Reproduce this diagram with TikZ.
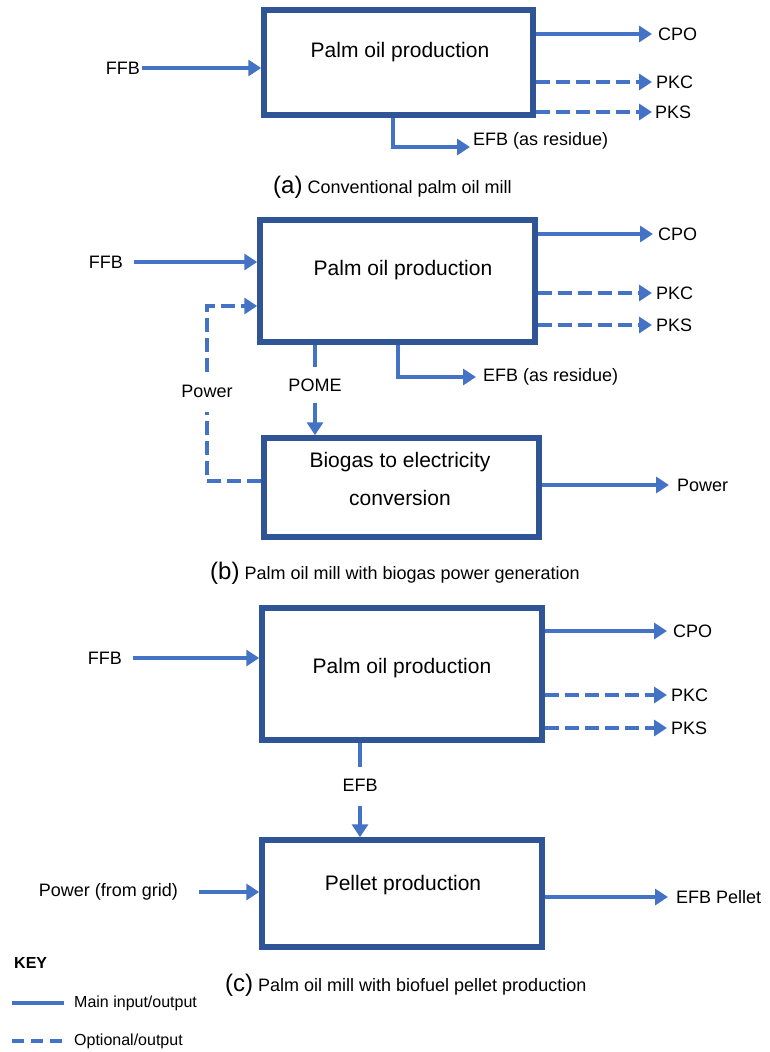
\documentclass[tikz,border=0pt]{standalone}
\usepackage{fontspec}
\setmainfont{Liberation Sans}
\usetikzlibrary{arrows.meta}
\definecolor{arrblue}{HTML}{4472C4}
\definecolor{boxblue}{HTML}{2F5597}
\begin{document}
\begin{tikzpicture}[x=1pt,y=-1pt,
  procbox/.style={draw=boxblue, line width=5.5pt, inner sep=0pt},
  flow/.style={draw=arrblue, line width=4.8pt},
  flowarr/.style={flow, -{Triangle[length=13pt,width=16pt]}},
  optflow/.style={flow, dash pattern=on 14pt off 6pt},
  optarr/.style={optflow, -{Triangle[length=13pt,width=16pt]}},
  boxtxt/.style={font=\fontsize{21}{38}\selectfont, align=center, inner sep=0pt},
  lbl/.style={font=\fontsize{18}{22}\selectfont, inner sep=0pt},
  rlbl/.style={lbl, anchor=west, inner xsep=5pt},
  llbl/.style={lbl, anchor=east},
  keylbl/.style={font=\fontsize{16}{20}\selectfont, inner sep=0pt, anchor=west},
  captxt/.style={font=\fontsize{18}{22}\selectfont, inner sep=0pt, anchor=west}]
\useasboundingbox (0,0) rectangle (769,1052);

% ---------------- (a) ----------------
\node[procbox, minimum width=269pt, minimum height=105pt] (pa) at (398.5,62.5) {};
\node[boxtxt] (pat) at (400,52) {Palm oil production};
\node[llbl, inner xsep=2pt] (ffba) at (142,68) {FFB};
\draw[flowarr] (ffba.east) -- (ffba.east -| pa.west);
\node[rlbl, inner xsep=6pt] (cpoa) at (652,34) {CPO};
\draw[flowarr] (pa.east |- cpoa.west) -- (cpoa.west);
\node[rlbl, inner xsep=4pt] (pkca) at (652,82) {PKC};
\draw[optarr] (pa.east |- pkca.west) -- (pkca.west);
\node[rlbl, inner xsep=3pt] (pksa) at (652,112) {PKS};
\draw[optarr] (pa.east |- pksa.west) -- (pksa.west);
\coordinate (ea) at (393,147);
\node[rlbl, inner xsep=3pt] (efba) at (470,141) {EFB (as residue)};
\draw[flowarr] (ea |- pa.south) -- (ea) -- (ea -| efba.west);
\node[captxt] (capa) at (273,187) {{\fontsize{24}{24}\selectfont (a)} Conventional palm oil mill};

% ---------------- (b) ----------------
\node[procbox, minimum width=275pt, minimum height=122pt] (pb) at (397.5,281) {};
\node[boxtxt] (pbt) at (403,270) {Palm oil production};
\node[llbl, inner xsep=11pt] (ffbb) at (134,262) {FFB};
\draw[flowarr] (ffbb.east) -- (ffbb.east -| pb.west);
\node[rlbl] (cpob) at (653,234) {CPO};
\draw[flowarr] (pb.east |- cpob.west) -- (cpob.west);
\node[rlbl, inner xsep=4pt] (pkcb) at (652,293) {PKC};
\draw[optarr] (pb.east |- pkcb.west) -- (pkcb.west);
\node[rlbl, inner xsep=4pt] (pksb) at (652,325) {PKS};
\draw[optarr] (pb.east |- pksb.west) -- (pksb.west);
\coordinate (eb) at (398,377);
\node[rlbl, inner xsep=7pt] (efbb) at (476,377) {EFB (as residue)};
\draw[flowarr] (eb |- pb.south) -- (eb) -- (efbb.west);

\node[procbox, minimum width=275pt, minimum height=99pt] (pbio) at (401.5,487.5) {};
\node[boxtxt] (pbiot) at (400,479) {Biogas to electricity\\conversion};
\node[rlbl, inner xsep=8pt] (pwout) at (669,485) {Power};
\draw[flowarr] (pbio.east |- pwout.west) -- (pwout.west);

\node[lbl] (pome) at (315,385) {POME};
\coordinate (pomeTop) at (315,367);
\coordinate (pomeBot) at (315,403);
\draw[flow] (pomeTop |- pb.south) -- (pomeTop);
\draw[flowarr] (pomeBot) -- (pomeBot |- pbio.north);

\node[lbl] (pwr) at (207,391) {Power};
\coordinate (pwTop) at (207,372);
\coordinate (pwBot) at (207,412);
\coordinate (loopT) at (207,306);
\coordinate (loopB) at (207,481);
\draw[optarr] (pwTop) -- (loopT) -- (loopT -| pb.west);
\draw[optflow] (loopB -| pbio.west) -- (loopB) -- (pwBot);
\node[captxt] (capb) at (210,573) {{\fontsize{24}{24}\selectfont (b)} Palm oil mill with biogas power generation};

% ---------------- (c) ----------------
\node[procbox, minimum width=280pt, minimum height=132pt] (pc) at (402,674) {};
\node[boxtxt] (pct) at (402,668) {Palm oil production};
\node[llbl, inner xsep=11pt] (ffbc) at (133,658) {FFB};
\draw[flowarr] (ffbc.east) -- (ffbc.east -| pc.west);
\node[rlbl, inner xsep=6pt] (cpoc) at (667,631) {CPO};
\draw[flowarr] (pc.east |- cpoc.west) -- (cpoc.west);
\node[rlbl, inner xsep=4pt] (pkcc) at (667,695) {PKC};
\draw[optarr] (pc.east |- pkcc.west) -- (pkcc.west);
\node[rlbl, inner xsep=4pt] (pksc) at (667,728) {PKS};
\draw[optarr] (pc.east |- pksc.west) -- (pksc.west);

\node[procbox, minimum width=280pt, minimum height=107pt] (pel) at (402,893.5) {};
\node[boxtxt] (pelt) at (403,885) {Pellet production};
\node[lbl] (efbc) at (360,785) {EFB};
\coordinate (efbTop) at (360,767);
\coordinate (efbBot) at (360,806);
\draw[flow] (efbTop |- pc.south) -- (efbTop);
\draw[flowarr] (efbBot) -- (efbBot |- pel.north);
\node[llbl, inner xsep=21pt] (grid) at (199,892) {Power (from grid)};
\draw[flowarr] (grid.east) -- (grid.east -| pel.west);
\node[rlbl, inner xsep=8pt] (pellet) at (668,897) {EFB Pellet};
\draw[flowarr] (pel.east |- pellet.west) -- (pellet.west);
\node[captxt] (capc) at (225,985) {{\fontsize{24}{24}\selectfont (c)} Palm oil mill with biofuel pellet production};

% ---------------- key ----------------
\node[keylbl, font=\fontsize{16}{20}\selectfont\bfseries] (key) at (14,963) {KEY};
\coordinate (k1a) at (12,1003);
\coordinate (k1b) at (64,1003);
\draw[flow] (k1a) -- (k1b);
\node[keylbl] (k1) at (74,1003) {Main input/output};
\coordinate (k2a) at (12,1041);
\coordinate (k2b) at (64,1041);
\draw[flow, dash pattern=on 12pt off 7pt] (k2a) -- (k2b);
\node[keylbl] (k2) at (74,1041) {Optional/output};
\end{tikzpicture}
\end{document}
